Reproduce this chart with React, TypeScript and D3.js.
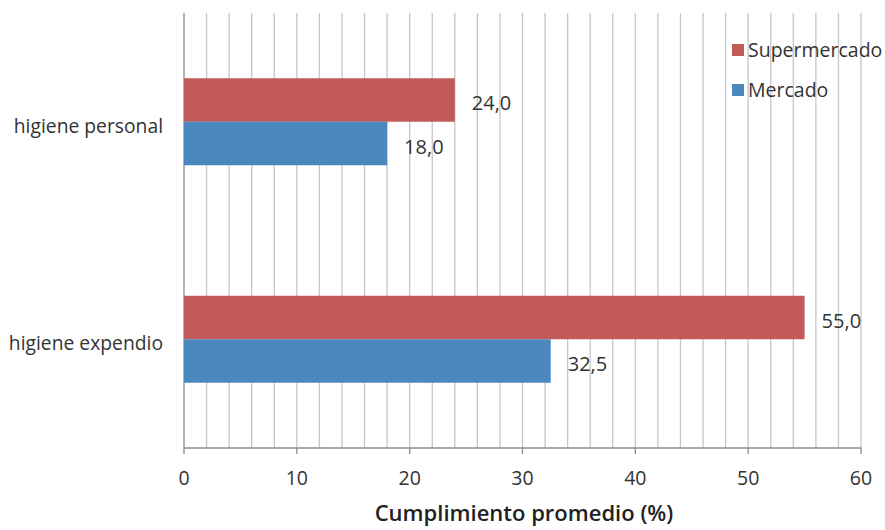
import React from "react";
import * as d3 from "d3";

const categories = ["higiene personal", "higiene expendio"];
const seriesNames = ["Supermercado", "Mercado"];
const supermercado = [24.0, 55.0];
const mercado = [18.0, 32.5];
const xTicks = [0, 10, 20, 30, 40, 50, 60];

const colors = ["#C35A5A", "#4A88BE"];
const FONT = "'Open Sans', 'Liberation Sans', sans-serif";

export default function App() {
  const width = 885;
  const height = 530;
  const x = d3.scaleLinear().domain([0, 60]).range([184, 861]);
  const y = d3
    .scaleBand<string>()
    .domain(categories)
    .range([13, 448])
    .paddingInner(0.6)
    .paddingOuter(0.3);
  const inner = d3
    .scaleBand<string>()
    .domain(seriesNames)
    .range([0, y.bandwidth()]);
  const series = [supermercado, mercado];
  const grid = d3.range(2, 61, 2);
  const [top, bottom] = [13, 448];
  const fmt = (v: number) => v.toFixed(1).replace(".", ",");

  return (
    <div style={{ position: "absolute", left: 0, top: 0 }}>
      <svg width={width} height={height} style={{ display: "block", background: "#fff" }}>
        {/* vertical gridlines */}
        {grid.map((g) => (
          <line
            key={g}
            x1={x(g)}
            x2={x(g)}
            y1={top}
            y2={bottom}
            stroke="#c6c6c6"
            strokeWidth={1.3}
          />
        ))}
        {/* category axis */}
        <line x1={x(0)} x2={x(0)} y1={top} y2={bottom} stroke="#8c8c8c" strokeWidth={1.3} />
        {/* value axis */}
        <line x1={x(0)} x2={x(60)} y1={bottom} y2={bottom} stroke="#8c8c8c" strokeWidth={1.3} />
        {xTicks.map((t) => (
          <g key={t}>
            <line x1={x(t)} x2={x(t)} y1={bottom} y2={bottom + 6} stroke="#8c8c8c" strokeWidth={1.3} />
            <text
              x={x(t)}
              y={478}
              dy="0.35em"
              textAnchor="middle"
              fontFamily={FONT}
              fontSize={19.5}
              fill="#333"
            >
              {t}
            </text>
          </g>
        ))}
        {/* bars */}
        {categories.map((c, ci) =>
          seriesNames.map((s, si) => {
            const v = series[si][ci];
            const by = (y(c) ?? 0) + (inner(s) ?? 0);
            const bh = inner.bandwidth();
            return (
              <g key={c + s}>
                <rect x={x(0)} y={by} width={x(v) - x(0)} height={bh} fill={colors[si]} />
                <text
                  x={x(v) + 17}
                  y={by + bh / 2 + 3}
                  dy="0.35em"
                  fontFamily={FONT}
                  fontSize={20}
                  fill="#333"
                >
                  {fmt(v)}
                </text>
              </g>
            );
          })
        )}
        {/* category labels */}
        {categories.map((c) => (
          <text
            key={c}
            x={163}
            y={(y(c) ?? 0) + y.bandwidth() / 2 + 4}
            dy="0.35em"
            textAnchor="end"
            fontFamily={FONT}
            fontSize={19.3}
            fill="#333"
          >
            {c}
          </text>
        ))}
        {/* legend */}
        {seriesNames.map((s, i) => (
          <g key={s} transform={`translate(732, ${44 + i * 40})`}>
            <rect x={0} y={0} width={12} height={12} fill={colors[i]} />
            <text x={16} y={6} dy="0.35em" fontFamily={FONT} fontSize={19.5} fill="#333">
              {s}
            </text>
          </g>
        ))}
        {/* axis title */}
        <text
          x={524}
          y={513}
          dy="0.35em"
          textAnchor="middle"
          fontFamily={FONT}
          fontSize={22}
          fontWeight={600}
          fill="#222"
        >
          Cumplimiento promedio (%)
        </text>
      </svg>
    </div>
  );
}
